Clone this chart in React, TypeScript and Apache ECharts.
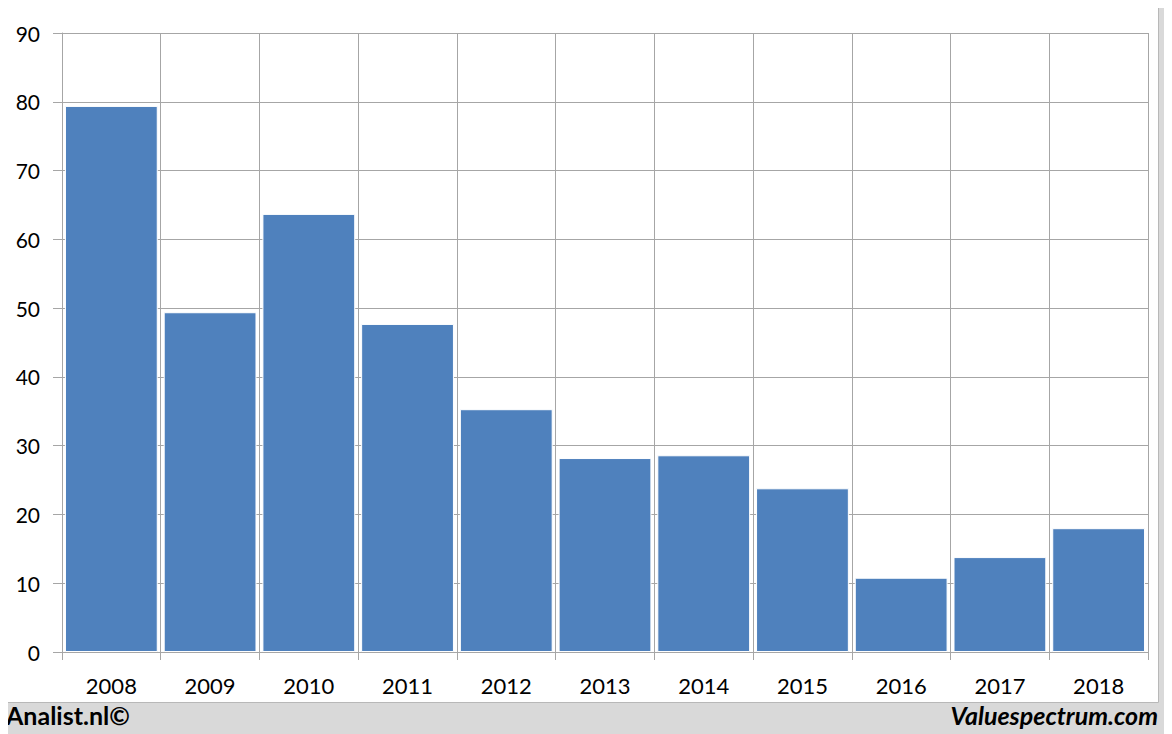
import React, { useEffect, useRef } from "react";
import * as echarts from "echarts";

const years = ["2008", "2009", "2010", "2011", "2012", "2013", "2014", "2015", "2016", "2017", "2018"];
const values = [79.4, 49.4, 63.7, 47.7, 35.3, 28.2, 28.6, 23.8, 10.8, 13.8, 18.0];
const yTicks = { min: 0, max: 90, interval: 10 };

export default function App() {
  const ref = useRef<HTMLDivElement>(null);
  useEffect(() => {
    const chart = echarts.init(ref.current!, undefined, { renderer: "svg" });
    const gridColor = "#a6a6a6";
    chart.setOption({
      animation: false,
      backgroundColor: "#d9d9d9",
      textStyle: { fontFamily: "Lato, 'Open Sans', sans-serif" },
      graphic: [
        {
          type: "rect",
          shape: { x: 7.5, y: 5.5, width: 1151, height: 697 },
          style: { fill: "#ffffff", stroke: "#b8b8b8", lineWidth: 1 },
          z: -10,
        },
        {
          type: "text",
          left: 6,
          top: 702,
          style: {
            text: "Analist.nl©",
            font: "bold 25px Lato, 'Open Sans', sans-serif",
            fill: "#000",
          },
        },
        {
          type: "text",
          right: 14,
          top: 702,
          style: {
            text: "Valuespectrum.com",
            font: "italic bold 25px Lato, 'Open Sans', sans-serif",
            fill: "#000",
          },
        },
      ],
      grid: { left: 62, right: 24, top: 33, bottom: 82, containLabel: false },
      xAxis: {
        type: "category",
        data: years,
        axisLine: { show: true, lineStyle: { color: gridColor, width: 1 } },
        axisTick: { show: true, length: 8, lineStyle: { color: gridColor } },
        splitLine: { show: true, lineStyle: { color: gridColor, width: 1 } },
        axisLabel: { color: "#000", fontSize: 22, margin: 22 },
      },
      yAxis: {
        type: "value",
        min: yTicks.min,
        max: yTicks.max,
        interval: yTicks.interval,
        axisLine: { show: true, lineStyle: { color: gridColor, width: 1 } },
        axisTick: { show: true, length: 9, lineStyle: { color: gridColor } },
        splitLine: { show: true, lineStyle: { color: gridColor, width: 1 } },
        axisLabel: { color: "#000", fontSize: 21, margin: 22 },
      },
      series: [
        {
          type: "bar",
          data: values,
          barCategoryGap: "6%",
          itemStyle: { color: "#4f81bd", borderColor: "#ffffff", borderWidth: 1 },
        },
      ],
    });
    return () => chart.dispose();
  }, []);
  return <div ref={ref} style={{ width: 1172, height: 734, marginLeft: -8, marginTop: -8 }} />;
}
